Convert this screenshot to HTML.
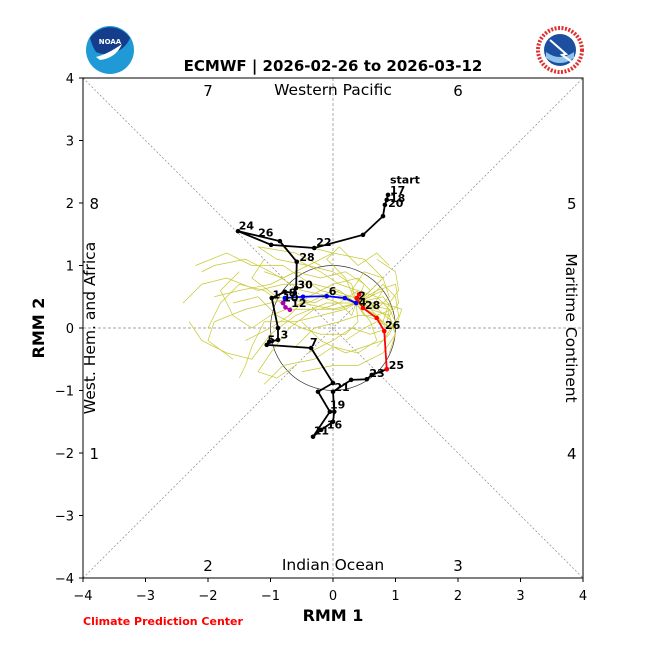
<!DOCTYPE html>
<html><head><meta charset="utf-8"><style>
body{margin:0;background:#fff;width:650px;height:650px;overflow:hidden}
svg{display:block;font-family:"DejaVu Sans","Liberation Sans",sans-serif}
</style></head><body>
<svg id="c" width="650" height="650" viewBox="0 0 650 650">
<g>
<circle cx="110" cy="50" r="24" fill="#1f9ad6"/>
<path d="M90,38 A24,24 0 0 1 130,38 Q126,48 116,52 Q104,56 96,52 Q92,46 90,38Z" fill="#143d8c"/>
<path d="M96,57 Q108,54 122,44 Q116,58 100,60Z" fill="#fff"/>
<text x="110" y="44" font-size="7" font-weight="bold" fill="#fff" text-anchor="middle">NOAA</text>
</g>
<g>
<circle cx="560" cy="50" r="22" fill="#fff" stroke="#e03030" stroke-width="4" stroke-dasharray="2 1.5"/>
<circle cx="560" cy="50" r="16" fill="#1d4fa0"/>
<path d="M546,52 Q560,62 574,52 L574,58 Q560,68 546,58Z" fill="#8fc3ea"/>
<path d="M550,40 L566,54 L562,55 L572,62" stroke="#fff" stroke-width="2" fill="none"/>
</g>
<text x="333" y="71" font-size="15" font-weight="bold" text-anchor="middle">ECMWF | 2026-02-26 to 2026-03-12</text>
<g id="plot"></g>
<text x="333" y="621" font-size="16" font-weight="bold" text-anchor="middle">RMM 1</text>
<text x="44" y="328" font-size="16" font-weight="bold" text-anchor="middle" transform="rotate(-90 44 328)">RMM 2</text>
<text x="83" y="625" font-size="11" font-weight="bold" fill="#ff0000">Climate Prediction Center</text>
</svg>
<script>
const ticks=[-4,-3,-2,-1,0,1,2,3,4];
const obsBlack=[[0.88,2.13],[0.86,2.05],[0.83,1.97],[0.80,1.79],[0.48,1.49],[-0.30,1.28],[-0.99,1.33],[-1.52,1.55],[-0.85,1.39],[-0.58,1.06],[-0.59,0.64],[-0.61,0.56],[-0.77,0.58],[-0.98,0.48],[-0.88,0.00],[-0.88,-0.19],[-1.02,-0.22],[-1.06,-0.27],[-0.35,-0.32],[0.00,-0.88],[-0.24,-1.02],[-0.05,-1.34],[-0.32,-1.74],[-0.19,-1.63],[0.00,-1.50],[0.02,-1.34],[0.00,-1.02],[0.29,-0.83],[0.54,-0.82],[0.62,-0.75],[0.86,-0.66]];
const obsRed=[[0.86,-0.66],[0.82,-0.05],[0.70,0.16],[0.48,0.32],[0.38,0.48],[0.42,0.54],[0.37,0.40]];
const fcBlue=[[0.37,0.40],[0.19,0.48],[-0.10,0.51],[-0.48,0.50],[-0.77,0.48],[-0.80,0.40]];
const fcPurple=[[-0.80,0.40],[-0.76,0.33],[-0.69,0.29]];
const dayLabels=["start","17","18","20","22","24","26","28","30","1","8","10","12","6","2","4","28","26","25","23","21","19","3","7","5","16","11"];
const labelPos=[[0.88,2.30],[0.88,2.13],[0.88,2.00],[0.85,1.92],[-0.30,1.30],[-1.54,1.56],[-1.23,1.45],[-0.57,1.06],[-0.60,0.62],[-1.00,0.46],[-0.74,0.49],[-0.83,0.41],[-0.70,0.32],[-0.10,0.51],[0.37,0.44],[0.38,0.34],[0.48,0.29],[0.80,-0.03],[0.86,-0.67],[0.55,-0.80],[-0.01,-1.02],[-0.08,-1.30],[-0.87,-0.18],[-0.40,-0.30],[-1.08,-0.26],[-0.13,-1.62],[-0.34,-1.72]];
const ensemble=[
[[0.37,0.40],[0.1,0.6],[-0.3,0.7],[-0.8,0.7],[-1.2,0.6],[-1.7,0.8],[-2.1,0.7],[-2.4,0.4]],
[[0.37,0.40],[0.0,0.5],[-0.5,0.6],[-1.0,0.9],[-1.4,1.1],[-1.9,1.0],[-2.1,0.9]],
[[0.37,0.40],[0.6,0.5],[0.8,0.7],[1.0,0.5],[1.05,0.2],[0.9,-0.1],[0.7,-0.3]],
[[0.37,0.40],[0.5,0.2],[0.8,0.1],[0.9,0.4],[1.05,0.6],[1.0,0.9],[0.7,1.1]],
[[0.37,0.40],[0.2,0.3],[-0.2,0.2],[-0.6,0.1],[-1.1,0.1],[-1.3,-0.3],[-1.4,-0.6],[-1.5,-0.8]],
[[0.37,0.40],[0.6,0.3],[0.9,0.2],[1.0,-0.1],[0.8,-0.4],[0.4,-0.6],[0.0,-0.6],[-0.5,-0.7]],
[[0.37,0.40],[0.1,0.6],[-0.3,0.4],[-0.6,0.5],[-1.0,0.4],[-1.4,0.3],[-1.9,0.1],[-2.0,-0.2],[-1.6,-0.5]],
[[0.37,0.40],[0.3,0.7],[0.0,0.9],[-0.4,1.0],[-0.9,1.1],[-1.2,1.3],[-0.6,1.2],[-0.2,1.0]],
[[0.37,0.40],[0.7,0.6],[1.0,0.7],[1.05,0.4],[0.9,0.2],[1.0,-0.1],[0.9,-0.4]],
[[0.37,0.40],[0.0,0.3],[-0.5,0.4],[-1.0,0.2],[-1.3,0.0],[-1.6,0.2],[-1.8,0.6],[-1.5,0.9]],
[[0.37,0.40],[0.6,0.1],[0.7,-0.2],[0.4,-0.4],[0.0,-0.3],[-0.3,-0.5],[-0.8,-0.6],[-1.1,-0.9]],
[[0.37,0.40],[0.2,0.8],[-0.1,1.1],[0.1,1.3],[0.4,1.0],[0.7,1.2],[0.9,1.0]],
[[0.37,0.40],[0.8,0.4],[1.1,0.3],[1.0,0.0],[0.7,0.1],[0.5,0.0],[0.2,-0.2]],
[[0.37,0.40],[-0.1,0.4],[-0.6,0.2],[-1.0,-0.1],[-1.3,-0.5],[-1.7,-0.4],[-2.1,-0.2],[-2.3,0.1]],
[[0.37,0.40],[0.5,0.7],[0.2,0.9],[-0.2,0.8],[-0.6,0.9],[-1.0,0.7],[-1.5,0.6],[-1.9,0.5]],
[[0.37,0.40],[0.7,0.3],[0.9,0.5],[0.8,0.8],[0.5,0.9],[0.3,0.6],[0.6,0.4],[0.95,0.1]],
[[0.37,0.40],[0.4,0.1],[0.2,-0.1],[-0.2,-0.1],[-0.5,0.0],[-0.9,0.2],[-1.2,0.5],[-1.6,0.4]],
[[0.37,0.40],[0.8,0.5],[0.95,0.3],[0.7,0.2],[0.4,0.2],[0.1,0.1],[-0.3,0.0],[-0.6,-0.3]],
[[0.37,0.40],[0.2,0.5],[-0.2,0.6],[-0.5,0.8],[-0.8,1.0],[-1.3,1.0],[-1.7,1.2],[-2.2,1.0]],
[[0.37,0.40],[0.6,0.6],[0.4,0.8],[0.0,0.7],[-0.4,0.5],[-0.7,0.2],[-1.0,0.0],[-1.4,-0.2]],
[[0.37,0.40],[0.9,0.3],[1.0,0.1],[0.8,-0.2],[0.5,-0.3],[0.2,-0.4],[-0.2,-0.2],[-0.5,0.1]],
[[0.37,0.40],[0.3,0.2],[0.1,0.4],[-0.2,0.3],[-0.7,0.3],[-1.1,0.6],[-1.5,0.7],[-1.8,0.4],[-2.0,0.0]],
[[0.37,0.40],[0.5,0.5],[0.8,0.8],[0.5,1.1],[0.0,1.2],[-0.4,1.0],[-0.8,0.8],[-1.1,0.9]],
[[0.37,0.40],[0.7,0.2],[0.85,0.0],[0.9,0.3],[0.7,0.5],[0.4,0.6],[0.1,0.4],[-0.2,0.5]],
[[0.37,0.40],[0.1,0.3],[-0.3,0.3],[-0.7,0.0],[-1.0,-0.4],[-1.2,-0.7],[-0.9,-0.8],[-0.6,-0.6]],
[[0.37,0.40],[0.6,0.4],[0.3,0.5],[0.0,0.6],[-0.4,0.4],[-0.9,0.5],[-1.3,0.8],[-1.1,1.1]],
[[0.37,0.40],[0.8,0.6],[0.6,0.3],[0.9,0.0],[0.6,-0.1],[0.3,0.0],[0.0,-0.2],[-0.4,-0.4]],
[[0.37,0.40],[0.4,0.6],[0.1,0.7],[-0.2,0.9],[-0.6,1.1],[-0.8,1.3],[-0.4,1.3],[0.0,1.2]]];
const phaseNums=["7","6","8","5","1","4","2","3"];
const phasePos=[[-2,3.81],[2,3.81],[-3.82,2.0],[3.82,2.0],[-3.82,-2.0],[3.82,-2.0],[-2,-3.79],[2,-3.79]];
const X=v=>333+v*62.5, Y=v=>328-v*62.5;
const ns="http://www.w3.org/2000/svg", g=document.getElementById('plot');
function el(t,a,p){const e=document.createElementNS(ns,t);for(const k in a)e.setAttribute(k,a[k]);(p||g).appendChild(e);return e;}
function pts(a){return a.map(p=>X(p[0])+','+Y(p[1])).join(' ');}
let e;
e=el('line',{x1:X(-4),y1:Y(4),x2:X(4),y2:Y(-4),stroke:'#888','stroke-width':0.7,'stroke-dasharray':'2 2'});

e=el('line',{x1:X(-4),y1:Y(-4),x2:X(4),y2:Y(4),stroke:'#888','stroke-width':0.7,'stroke-dasharray':'2 2'});

e=el('line',{x1:X(0),y1:Y(4),x2:X(0),y2:Y(-4),stroke:'#888','stroke-width':0.7,'stroke-dasharray':'3 2'});

e=el('line',{x1:X(-4),y1:Y(0),x2:X(4),y2:Y(0),stroke:'#888','stroke-width':0.7,'stroke-dasharray':'3 2'});

e=el('circle',{cx:X(0),cy:Y(0),r:62.5,fill:'none',stroke:'#333','stroke-width':0.7});

ensemble.forEach(m=>{e=el('polyline',{points:pts(m),fill:'none',stroke:'#c8c832','stroke-width':0.7});
});
function series(d,c,n){e=el('polyline',{points:pts(d),fill:'none',stroke:c,'stroke-width':1.8});

d.forEach(p=>{const m=el('circle',{cx:X(p[0]),cy:Y(p[1]),r:2.3,fill:c});
});}
series(obsBlack,'#000','observed-track');series(obsRed,'#ff0000','recent-track');
series(fcBlue,'#0000ff','forecast-week1');series(fcPurple,'#b000b0','forecast-week2');
dayLabels.forEach((t,i)=>{e=el('text',{x:X(labelPos[i][0])+2,y:Y(labelPos[i][1])-1,'font-size':11,'font-weight':'bold'});e.textContent=t;
});
phaseNums.forEach((t,i)=>{e=el('text',{x:X(phasePos[i][0]),y:Y(phasePos[i][1])+6,'font-size':15,'text-anchor':'middle'});e.textContent=t;
});
[["Western Pacific",333,95,0],["Indian Ocean",333,570,0],["West. Hem. and Africa",95,328,-90],["Maritime Continent",566,328,90]].forEach(r=>{
e=el('text',{x:r[1],y:r[2],'font-size':15.5,'text-anchor':'middle',transform:'rotate('+r[3]+' '+r[1]+' '+r[2]+')'});e.textContent=r[0];
});
e=el('rect',{x:X(-4),y:Y(4),width:500,height:500,fill:'none',stroke:'#000','stroke-width':1});

ticks.forEach(t=>{
e=el('line',{x1:X(t),y1:Y(-4),x2:X(t),y2:Y(-4)+4,stroke:'#000'});
e=el('text',{x:X(t),y:600,'font-size':13,'text-anchor':'middle'});e.textContent=t<0?'\u2212'+(-t):t;

e=el('line',{x1:X(-4)-4,y1:Y(t),x2:X(-4),y2:Y(t),stroke:'#000'});
e=el('text',{x:74,y:Y(t)+5,'font-size':13,'text-anchor':'end'});e.textContent=t<0?'\u2212'+(-t):t;
});
</script>
</body></html>
